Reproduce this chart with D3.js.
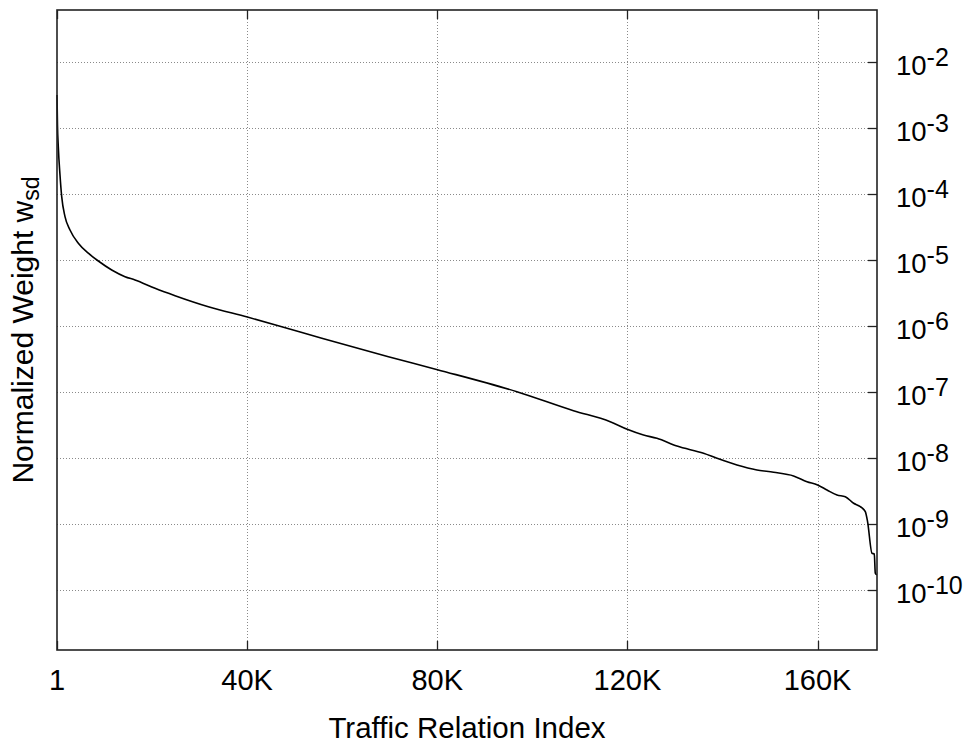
<!DOCTYPE html>
<html>
<head>
<meta charset="utf-8">
<script src="https://cdn.jsdelivr.net/npm/d3@7"></script>
<style>
  html, body { margin: 0; padding: 0; background: #fff; }
  svg { display: block; font-family: "Liberation Sans", Arial, sans-serif; }
</style>
</head>
<body>
<svg id="chart" width="970" height="744"></svg>
<script>
// Traffic relations sorted by normalized weight (descending)
const relationIndex = [1, 100, 274, 631, 990, 1684, 2736, 4483, 6587, 8692, 11512, 14310, 16415,
  20624, 24832, 31840, 40048, 47286, 55704, 69720, 80032, 96741, 108652, 116375,
  119953, 123383, 126203, 130412, 136010, 138830, 143038, 147247, 150741, 154949, 157769,
  160000, 161978, 164083, 165829, 167576, 168986, 170038, 170522, 171448, 171932, 172143, 172459];
const normalizedWeight = [3.20e-3, 1.12e-3, 5.26e-4, 1.96e-4, 9.2e-5, 4.58e-5, 2.88e-5, 1.81e-5,
  1.28e-5, 9.75e-6, 7.13e-6, 5.65e-6, 5.04e-6, 3.77e-6, 2.91e-6, 1.98e-6, 1.38e-6, 9.86e-7,
  6.58e-7, 3.46e-7, 2.20e-7, 1.02e-7, 5.26e-8, 3.59e-8, 2.75e-8, 2.25e-8, 2.01e-8,
  1.53e-8, 1.19e-8, 1.00e-8, 7.91e-9, 6.65e-9, 6.14e-9, 5.40e-9, 4.42e-9, 3.94e-9, 3.31e-9,
  2.78e-9, 2.62e-9, 2.08e-9, 1.85e-9, 1.55e-9, 1.09e-9, 3.64e-10, 3.55e-10, 1.81e-10, 1.71e-10];

const xTickValues = [1, 40000, 80000, 120000, 160000];
const xTickLabels = ["1", "40K", "80K", "120K", "160K"];
const yTickExponents = [-2, -3, -4, -5, -6, -7, -8, -9, -10];

const xDomain = [1, 172500];
const yDomain = [1.245e-11, 6.2e-2];

const margin = { left: 57, top: 10, right: 93, bottom: 94 };
const W = 970, H = 744;
const innerW = W - margin.left - margin.right;
const innerH = H - margin.top - margin.bottom;

const svg = d3.select("#chart");
const g = svg.append("g").attr("transform", `translate(${margin.left},${margin.top})`);

const x = d3.scaleLinear().domain(xDomain).range([0, innerW]);
const y = d3.scaleLog().domain(yDomain).range([innerH, 0]);
const yTicks = yTickExponents.map(e => Math.pow(10, e));

// dotted grid
const grid = g.append("g").attr("stroke", "#8a8a8a").attr("stroke-width", 1)
  .attr("stroke-dasharray", "1,2");
grid.selectAll("line.h").data(yTicks).join("line").attr("class", "h")
  .attr("x1", 0).attr("x2", innerW)
  .attr("y1", d => Math.round(y(d)) + 0.5).attr("y2", d => Math.round(y(d)) + 0.5);
grid.selectAll("line.v").data(xTickValues.slice(1)).join("line").attr("class", "v")
  .attr("x1", d => Math.round(x(d)) + 0.5).attr("x2", d => Math.round(x(d)) + 0.5)
  .attr("y1", 0).attr("y2", innerH);

// tick marks: bottom and top for x, right side only for y
const tickLen = 9;
const ticks = g.append("g").attr("stroke", "#222").attr("stroke-width", 1.3);
xTickValues.forEach(v => {
  const px = Math.round(x(v)) + 0.5;
  ticks.append("line").attr("x1", px).attr("x2", px).attr("y1", innerH).attr("y2", innerH - tickLen);
  ticks.append("line").attr("x1", px).attr("x2", px).attr("y1", 0).attr("y2", tickLen);
});
yTicks.forEach(v => {
  const py = Math.round(y(v)) + 0.5;
  ticks.append("line").attr("x1", innerW).attr("x2", innerW - tickLen).attr("y1", py).attr("y2", py);
});

// the weight curve
const line = d3.line()
  .x((d, i) => x(relationIndex[i]))
  .y(d => y(d))
  .curve(d3.curveMonotoneX);
g.append("path")
  .datum(normalizedWeight)
  .attr("fill", "none")
  .attr("stroke", "#000")
  .attr("stroke-width", 1.6)
  .attr("stroke-linejoin", "round")
  .attr("d", line);

// frame
g.append("rect").attr("x", 0).attr("y", 0).attr("width", innerW).attr("height", innerH)
  .attr("fill", "none").attr("stroke", "#222").attr("stroke-width", 1.6);

// x tick labels
g.append("g").selectAll("text").data(xTickValues).join("text")
  .attr("x", d => x(d))
  .attr("y", innerH + 40)
  .attr("text-anchor", "middle")
  .attr("font-size", 29)
  .attr("fill", "#000")
  .text((d, i) => xTickLabels[i]);

// y tick labels on the right, as powers of ten
const yLab = g.append("g").selectAll("text").data(yTickExponents).join("text")
  .attr("x", innerW + 19)
  .attr("y", d => y(Math.pow(10, d)) + 13)
  .attr("font-size", 27.5)
  .attr("fill", "#000");
yLab.append("tspan").text("10");
yLab.append("tspan").attr("dy", -9).attr("font-size", 25).text(d => "-" + Math.abs(d));

// axis titles
g.append("text")
  .attr("x", innerW / 2)
  .attr("y", innerH + 88)
  .attr("text-anchor", "middle")
  .attr("font-size", 29.5)
  .attr("fill", "#000")
  .text("Traffic Relation Index");

const yTitle = svg.append("text")
  .attr("transform", `translate(33,${margin.top + innerH / 2}) rotate(-90)`)
  .attr("text-anchor", "middle")
  .attr("font-size", 30)
  .attr("fill", "#000");
yTitle.append("tspan").text("Normalized Weight w");
yTitle.append("tspan").attr("dy", 6).attr("font-size", 23).text("sd");
</script>
</body>
</html>
